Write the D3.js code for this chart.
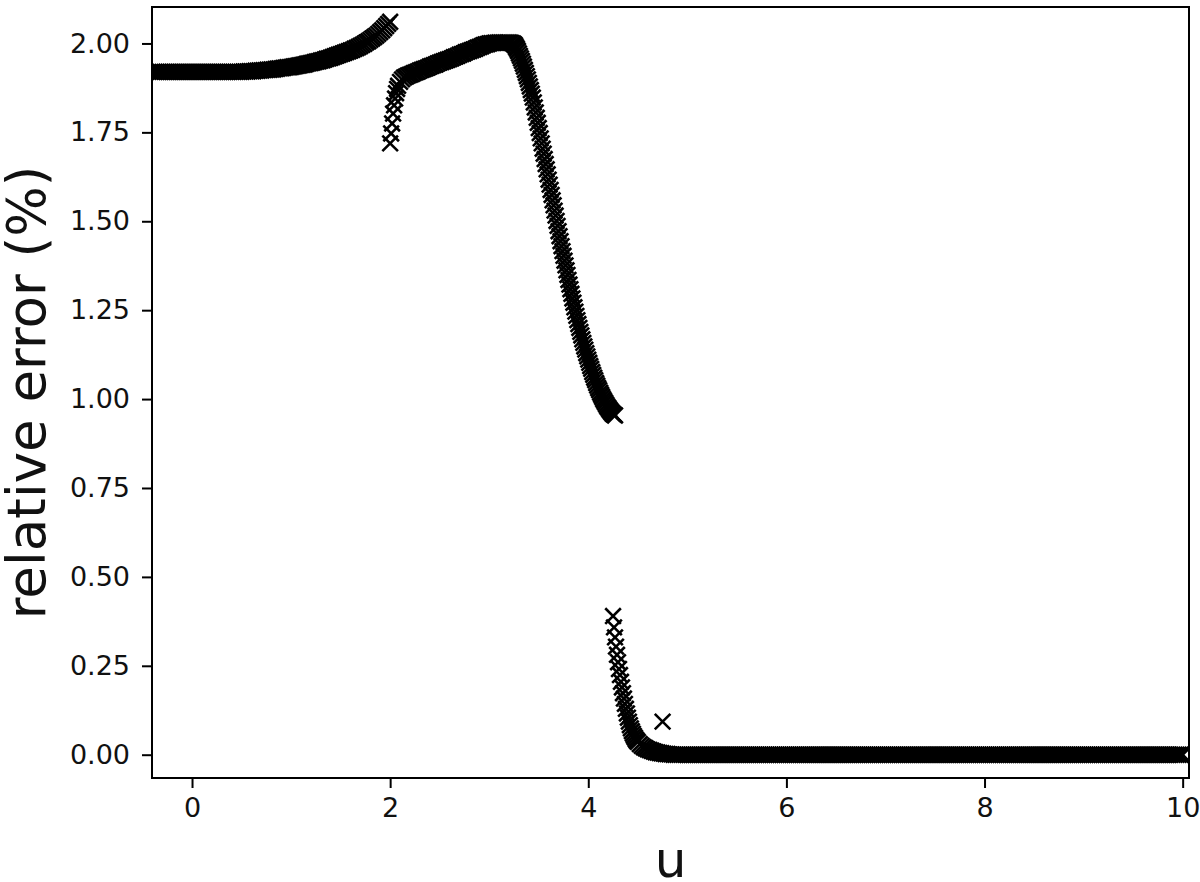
<!DOCTYPE html>
<html><head><meta charset="utf-8">
<script src="https://cdn.jsdelivr.net/npm/d3@7"></script>
<style>body{margin:0;background:#fff;} text{font-family:"DejaVu Sans",sans-serif;}</style>
</head><body>
<svg id="chart" width="1200" height="882"></svg>
<script>
// ---- data ----
// segment A: u from -0.40 to 2.00
const segA_u = [-0.40,-0.38,-0.36,-0.34,-0.32,-0.30,-0.28,-0.26,-0.24,-0.22,-0.20,-0.18,-0.16,-0.14,-0.12,-0.10,-0.08,-0.06,-0.04,-0.02,
  0.00,0.02,0.04,0.06,0.08,0.10,0.12,0.14,0.16,0.18,0.20,0.22,0.24,0.26,0.28,0.30,0.32,0.34,0.36,0.38,0.40,0.42,0.44,0.46,0.48,0.50,
  0.52,0.54,0.56,0.58,0.60,0.62,0.64,0.66,0.68,0.70,0.72,0.74,0.76,0.78,0.80,0.82,0.84,0.86,0.88,0.90,0.92,0.94,0.96,0.98,
  1.00,1.02,1.04,1.06,1.08,1.10,1.12,1.14,1.16,1.18,1.20,1.22,1.24,1.26,1.28,1.30,1.32,1.34,1.36,1.38,1.40,1.42,1.44,1.46,1.48,
  1.50,1.52,1.54,1.56,1.58,1.60,1.62,1.64,1.66,1.68,1.70,1.72,1.74,1.76,1.78,1.80,1.82,1.84,1.86,1.88,1.90,1.92,1.94,1.96,1.98,2.00];
const segA_v = [1.920,1.920,1.920,1.920,1.920,1.920,1.920,1.920,1.920,1.920,1.920,1.920,1.920,1.920,1.920,1.920,1.920,1.920,1.920,1.920,
  1.920,1.920,1.920,1.920,1.920,1.920,1.920,1.920,1.920,1.920,1.920,1.920,1.920,1.920,1.920,1.920,1.920,1.920,1.920,1.920,1.920,1.920,1.920,1.920,1.920,1.920,
  1.921,1.921,1.921,1.922,1.922,1.922,1.923,1.923,1.924,1.924,1.925,1.925,1.926,1.926,1.927,1.927,1.928,1.929,1.930,1.930,1.931,1.932,1.933,1.933,
  1.934,1.935,1.936,1.937,1.938,1.939,1.940,1.941,1.943,1.944,1.945,1.946,1.948,1.949,1.950,1.952,1.953,1.955,1.957,1.958,1.960,1.962,1.964,1.966,1.968,
  1.970,1.972,1.974,1.976,1.978,1.980,1.982,1.985,1.987,1.990,1.993,1.996,1.999,2.003,2.006,2.010,2.014,2.018,2.022,2.027,2.032,2.037,2.043,2.049,2.055,2.061];

// segment B: u from 2.00 to 4.27
const segB_u = [2.00,2.01,2.02,2.03,2.04,2.05,2.06,2.07,2.08,2.10,2.12,2.14,2.16,2.18,2.20,2.22,2.24,2.26,2.28,2.30,2.32,2.34,2.36,2.38,2.40,2.42,2.44,2.46,2.48,
  2.50,2.52,2.54,2.56,2.58,2.60,2.62,2.64,2.66,2.68,2.70,2.72,2.74,2.76,2.78,2.80,2.82,2.84,2.86,2.88,2.90,2.92,2.94,2.96,2.98,
  3.00,3.02,3.04,3.06,3.08,3.10,3.12,3.14,3.16,3.18,3.20,3.22,
  3.24,3.25,3.26,3.27,3.28,3.29,3.30,3.31,3.32,3.33,3.34,3.35,3.36,3.37,3.38,3.39,3.40,3.41,3.42,3.43,3.44,3.45,3.46,3.47,3.48,3.49,
  3.50,3.51,3.52,3.53,3.54,3.55,3.56,3.57,3.58,3.59,3.60,3.61,3.62,3.63,3.64,3.65,3.66,3.67,3.68,3.69,3.70,3.71,3.72,3.73,3.74,3.75,3.76,3.77,3.78,3.79,
  3.80,3.81,3.82,3.83,3.84,3.85,3.86,3.87,3.88,3.89,3.90,3.91,3.92,3.93,3.94,3.95,3.96,3.97,3.98,3.99,
  4.00,4.01,4.02,4.03,4.04,4.05,4.06,4.07,4.08,4.09,4.10,4.11,4.12,4.13,4.14,4.15,4.16,4.17,4.18,4.19,4.20,4.21,4.22,4.23,4.24,4.25,4.26,4.27];
const segB_v = [1.719,1.747,1.775,1.803,1.826,1.845,1.860,1.872,1.881,1.892,1.899,1.904,1.907,1.910,1.912,1.914,1.917,1.919,1.921,1.924,1.926,1.928,1.930,1.932,1.935,1.937,1.939,1.941,1.944,
  1.946,1.948,1.950,1.952,1.954,1.956,1.958,1.961,1.963,1.965,1.968,1.970,1.972,1.975,1.977,1.979,1.981,1.983,1.985,1.988,1.990,1.992,1.995,1.997,1.998,
  2.000,2.001,2.001,2.002,2.002,2.003,2.003,2.003,2.003,2.003,2.003,2.002,
  2.000,1.998,1.995,1.990,1.985,1.979,1.972,1.965,1.958,1.951,1.943,1.935,1.926,1.917,1.908,1.899,1.889,1.879,1.869,1.859,1.848,1.834,1.820,1.806,1.791,1.777,
  1.762,1.748,1.733,1.719,1.704,1.690,1.675,1.661,1.646,1.632,1.617,1.603,1.588,1.574,1.559,1.545,1.530,1.516,1.501,1.487,1.472,1.458,1.444,1.430,1.416,1.403,1.389,1.376,1.362,1.349,
  1.335,1.322,1.309,1.296,1.283,1.271,1.258,1.246,1.234,1.222,1.211,1.200,1.189,1.179,1.168,1.158,1.148,1.139,1.129,1.120,
  1.111,1.102,1.093,1.085,1.076,1.068,1.060,1.053,1.045,1.038,1.031,1.025,1.018,1.012,1.006,1.000,0.995,0.990,0.985,0.980,0.976,0.972,0.968,0.964,0.961,0.958,0.956,0.954];

// segment C: u from 4.25 to 10.00
const segC_u = [4.25,4.26,4.27,4.28,4.29,4.30,4.31,4.32,4.33,4.34,4.35,4.36,4.37,4.38,4.39,4.40,4.41,4.42,4.43,4.44,4.45,4.46,4.47,4.48,4.49,4.50,
  4.52,4.54,4.56,4.58,4.60,4.62,4.64,4.66,4.68,4.70,4.72,4.74,4.76,4.78,4.80,4.82,4.84,4.86,4.88,4.90,4.92,4.94,4.96,4.98,
  5.00,5.02,5.04,5.06,5.08,5.10,5.12,5.14,5.16,5.18,5.20,5.22,5.24,5.26,5.28,5.30,5.32,5.34,5.36,5.38,5.40,5.42,5.44,5.46,5.48,
  5.50,5.52,5.54,5.56,5.58,5.60,5.62,5.64,5.66,5.68,5.70,5.72,5.74,5.76,5.78,5.80,5.82,5.84,5.86,5.88,5.90,5.92,5.94,5.96,5.98,
  6.00,6.02,6.04,6.06,6.08,6.10,6.12,6.14,6.16,6.18,6.20,6.22,6.24,6.26,6.28,6.30,6.32,6.34,6.36,6.38,6.40,6.42,6.44,6.46,6.48,
  6.50,6.52,6.54,6.56,6.58,6.60,6.62,6.64,6.66,6.68,6.70,6.72,6.74,6.76,6.78,6.80,6.82,6.84,6.86,6.88,6.90,6.92,6.94,6.96,6.98,
  7.00,7.02,7.04,7.06,7.08,7.10,7.12,7.14,7.16,7.18,7.20,7.22,7.24,7.26,7.28,7.30,7.32,7.34,7.36,7.38,7.40,7.42,7.44,7.46,7.48,
  7.50,7.52,7.54,7.56,7.58,7.60,7.62,7.64,7.66,7.68,7.70,7.72,7.74,7.76,7.78,7.80,7.82,7.84,7.86,7.88,7.90,7.92,7.94,7.96,7.98,
  8.00,8.02,8.04,8.06,8.08,8.10,8.12,8.14,8.16,8.18,8.20,8.22,8.24,8.26,8.28,8.30,8.32,8.34,8.36,8.38,8.40,8.42,8.44,8.46,8.48,
  8.50,8.52,8.54,8.56,8.58,8.60,8.62,8.64,8.66,8.68,8.70,8.72,8.74,8.76,8.78,8.80,8.82,8.84,8.86,8.88,8.90,8.92,8.94,8.96,8.98,
  9.00,9.02,9.04,9.06,9.08,9.10,9.12,9.14,9.16,9.18,9.20,9.22,9.24,9.26,9.28,9.30,9.32,9.34,9.36,9.38,9.40,9.42,9.44,9.46,9.48,
  9.50,9.52,9.54,9.56,9.58,9.60,9.62,9.64,9.66,9.68,9.70,9.72,9.74,9.76,9.78,9.80,9.82,9.84,9.86,9.88,9.90,9.92,9.94,9.96,9.98,10.00];
const segC_v = [0.390,0.358,0.330,0.304,0.281,0.260,0.241,0.224,0.205,0.189,0.173,0.158,0.143,0.129,0.116,0.104,0.093,0.083,0.074,0.066,0.059,0.053,0.048,0.043,0.039,0.036,
  0.030,0.025,0.021,0.018,0.015,0.013,0.011,0.009,0.007,0.006,0.005,0.004,0.003,0.002,0.002,0.001,0.001,0,0,0,0,0,0,0,
  0,0,0,0,0,0,0,0,0,0,0,0,0,0,0,0,0,0,0,0,0,0,0,0,0,
  0,0,0,0,0,0,0,0,0,0,0,0,0,0,0,0,0,0,0,0,0,0,0,0,0,
  0,0,0,0,0,0,0,0,0,0,0,0,0,0,0,0,0,0,0,0,0,0,0,0,0,
  0,0,0,0,0,0,0,0,0,0,0,0,0,0,0,0,0,0,0,0,0,0,0,0,0,
  0,0,0,0,0,0,0,0,0,0,0,0,0,0,0,0,0,0,0,0,0,0,0,0,0,
  0,0,0,0,0,0,0,0,0,0,0,0,0,0,0,0,0,0,0,0,0,0,0,0,0,
  0,0,0,0,0,0,0,0,0,0,0,0,0,0,0,0,0,0,0,0,0,0,0,0,0,
  0,0,0,0,0,0,0,0,0,0,0,0,0,0,0,0,0,0,0,0,0,0,0,0,0,
  0,0,0,0,0,0,0,0,0,0,0,0,0,0,0,0,0,0,0,0,0,0,0,0,0,
  0,0,0,0,0,0,0,0,0,0,0,0,0,0,0,0,0,0,0,0,0,0,0,0,0,0];

const outlier_u = [4.75];
const outlier_v = [0.093];

const xTicks = [0, 2, 4, 6, 8, 10];
const yTicks = [0.00, 0.25, 0.50, 0.75, 1.00, 1.25, 1.50, 1.75, 2.00];
const xLabel = "u";
const yLabel = "relative error (%)";

// ---- layout ----
const svg = d3.select("#chart");
const L = 152, R = 1189, T = 7, B = 778;
const x = d3.scaleLinear().domain([-0.404, 10.064]).range([L, R]);
const y = d3.scaleLinear().domain([-0.0655, 2.1025]).range([B, T]);

const pts = [];
[[segA_u, segA_v], [segB_u, segB_v], [segC_u, segC_v], [outlier_u, outlier_v]].forEach(([us, vs]) => {
  us.forEach((u, i) => pts.push([u, vs[i]]));
});

svg.append("defs").append("clipPath").attr("id", "clip")
  .append("rect").attr("x", L).attr("y", T).attr("width", R - L).attr("height", B - T);

const s = 7.8;
svg.append("g").attr("clip-path", "url(#clip)")
  .selectAll("path").data(pts).enter().append("path")
  .attr("transform", d => `translate(${x(d[0])},${y(d[1])})`)
  .attr("d", `M${-s},${-s}L${s},${s}M${-s},${s}L${s},${-s}`)
  .attr("stroke", "#000").attr("stroke-width", 2.6).attr("fill", "none");

// axes
const xAxis = d3.axisBottom(x).tickValues(xTicks).tickFormat(d3.format("d")).tickSize(10).tickPadding(10);
const yAxis = d3.axisLeft(y).tickValues(yTicks).tickFormat(d3.format(".2f")).tickSize(10).tickPadding(12);

const gx = svg.append("g").attr("transform", `translate(0,${B})`).call(xAxis);
const gy = svg.append("g").attr("transform", `translate(${L},0)`).call(yAxis);
[gx, gy].forEach(g => {
  g.select(".domain").remove();
  g.selectAll(".tick line").attr("stroke", "#000").attr("stroke-width", 2);
  g.selectAll(".tick text").attr("font-size", 27).attr("fill", "#111").style("font-family", "DejaVu Sans");
});

// frame
svg.append("rect").attr("x", L).attr("y", T).attr("width", R - L).attr("height", B - T)
  .attr("fill", "none").attr("stroke", "#000").attr("stroke-width", 2);

// labels
svg.append("text").attr("x", (L + R) / 2).attr("y", 877).attr("text-anchor", "middle")
  .attr("font-size", 50).attr("fill", "#111").text(xLabel);
svg.append("text").attr("transform", `translate(45,${(T + B) / 2}) rotate(-90)`).attr("text-anchor", "middle")
  .attr("font-size", 53).attr("fill", "#111").text(yLabel);
</script>
</body></html>
